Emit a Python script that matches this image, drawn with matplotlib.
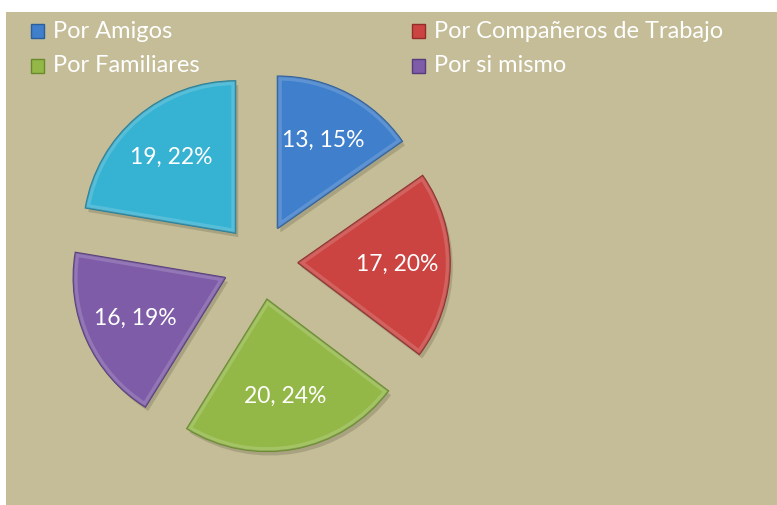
import matplotlib.pyplot as plt
import matplotlib.patheffects as pe
from matplotlib.patches import Rectangle, Wedge

# data
categories = ["Por Amigos", "Por Compañeros de Trabajo", "Por Familiares", "Por si mismo", "Otros"]
values = [13, 17, 20, 16, 19]
colors = ["#3F7FCB", "#CB4441", "#93B847", "#7E5CA8", "#36B2D2"]
edges = ["#2A5E9E", "#932C2A", "#688A2C", "#573B7D", "#227F99"]
legend_count = 4  # the last entry is cut off in the original

plt.rcParams['font.family'] = ['Lato', 'DejaVu Sans']

fig = plt.figure(figsize=(7.77, 5.05), dpi=100)
fig.patch.set_facecolor("white")
ax = fig.add_axes([0, 0, 1, 1])

total = sum(values)
radius = 152
center = (260, 243)


def fmt(p):
    v = int(round(p * total / 100.0))
    return "%d, %d%%" % (v, round(p))


# explode is in data units when radius != 1
wedges, texts, autotexts = ax.pie(values, colors=colors, startangle=90, counterclock=False,
                                  center=center, radius=radius,
                                  explode=[0.25 * radius] * len(values),
                                  autopct=fmt, pctdistance=0.65,
                                  wedgeprops=dict(linewidth=1.2),
                                  textprops=dict(color="white", fontsize=16.5))

# pie resets the limits, so set them afterwards
# (axes is 777x505 px, so one data unit = one pixel in both directions)
ax.set_xlim(0, 777)
ax.set_ylim(0, 505)
ax.set_aspect("auto")
ax.axis("off")

# chart area background
ax.add_patch(Rectangle((6, -5), 775, 498, facecolor="#C4BD97", edgecolor="none", zorder=0))

for w, ec in zip(wedges, edges):
    w.set_edgecolor(ec)
    w.set_path_effects([pe.SimplePatchShadow(offset=(2, -3), alpha=0.22, shadow_rgbFace="#4A4630"),
                        pe.Normal()])
    # bevel highlight just inside the edge
    hl = Wedge(w.center, w.r, w.theta1, w.theta2, facecolor="none",
               edgecolor="white", alpha=0.16, linewidth=6, zorder=w.get_zorder() + 0.1)
    ax.add_patch(hl)
    hl.set_clip_path(w)

for t in autotexts:
    t.set_zorder(5)

# legend drawn as two columns
legend_x = [31, 412]
legend_y = [474, 439]
for i in range(legend_count):
    cx = legend_x[i % 2]
    cy = legend_y[i // 2]
    ax.add_patch(Rectangle((cx, cy - 7), 13, 14, facecolor=colors[i], edgecolor=edges[i],
                           linewidth=1, zorder=4))
    ax.text(cx + 22, cy, categories[i], color="white", fontsize=17,
            va="center", ha="left", zorder=4)

fig.savefig("out.png", dpi=100, facecolor=fig.get_facecolor())
